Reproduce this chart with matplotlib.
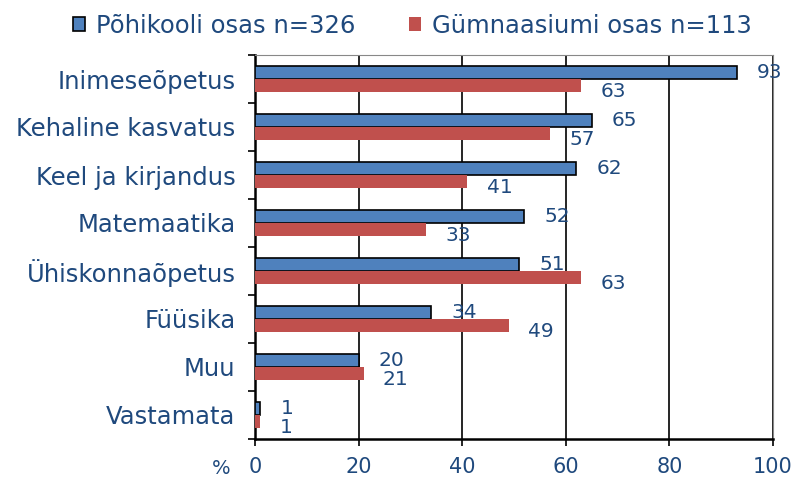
import matplotlib.pyplot as plt
import numpy as np
from matplotlib.patches import Patch

categories = ["Inimeseõpetus", "Kehaline kasvatus", "Keel ja kirjandus", "Matemaatika",
              "Ühiskonnaõpetus", "Füüsika", "Muu", "Vastamata"]
pohikool = [93, 65, 62, 52, 51, 34, 20, 1]
gymnaasium = [63, 57, 41, 33, 63, 49, 21, 1]
series_names = ["Põhikooli osas n=326", "Gümnaasiumi osas n=113"]

txt = '#1F497D'
blue = '#4F81BD'
red = '#C0504D'

fig = plt.figure(figsize=(7.99, 4.79), dpi=100)
ax = fig.add_axes([255 / 799, 1 - 439 / 479, 518 / 799, 384 / 479])

y = np.arange(len(categories))
h = 0.27
ax.barh(y - h / 2, pohikool, height=h, color=blue, edgecolor='black', linewidth=1.2, zorder=3)
ax.barh(y + h / 2, gymnaasium, height=h, color=red, edgecolor='none', zorder=3)

# väärtuste sildid
for i, (a, b) in enumerate(zip(pohikool, gymnaasium)):
    ax.text(a + 3.9, i - h / 2, str(a), color=txt, fontsize=14.5, va='center', ha='left', zorder=5)
    ax.text(b + 3.7, i + h / 2 + 0.12, str(b), color=txt, fontsize=14.5, va='center', ha='left', zorder=5)

ax.set_ylim(len(categories) - 0.5, -0.5)
ax.set_xlim(0, 100)
ax.set_xticks([0, 20, 40, 60, 80, 100])
ax.set_yticks(y)
ax.set_yticklabels(categories)
ax.set_yticks(np.arange(len(categories) + 1) - 0.5, minor=True)
ax.tick_params(axis='y', which='major', length=0, labelsize=17.5, labelcolor=txt, pad=14)
ax.tick_params(axis='y', which='minor', length=5, width=1.2, color='black')
ax.tick_params(axis='x', length=5, width=1.2, labelsize=15, labelcolor=txt, pad=8)
ax.grid(axis='x', color='black', linewidth=1.2, zorder=0)

for s in ['top', 'right']:
    ax.spines[s].set_color('#888888')
for s in ['left', 'bottom']:
    ax.spines[s].set_linewidth(1.8)
    ax.spines[s].set_color('black')

fig.text(221 / 799, 1 - 468 / 479, '%', color=txt, fontsize=14, ha='center', va='center')

handles = [Patch(facecolor=blue, edgecolor='black', linewidth=1.2),
           Patch(facecolor=red, edgecolor='none')]
fig.legend(handles, series_names, loc='center', bbox_to_anchor=(0.516, 1 - 26 / 479),
           ncol=2, frameon=False, fontsize=17.5, labelcolor=txt, handlelength=0.5,
           handleheight=0.5, handletextpad=0.45, columnspacing=2.2)

fig.savefig('out.png', dpi=100)
